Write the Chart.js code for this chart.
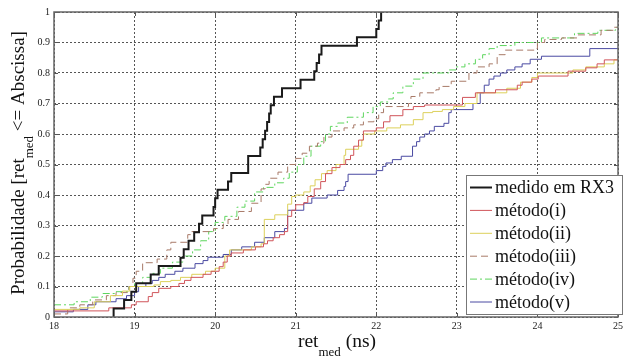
<!DOCTYPE html>
<html>
<head>
<meta charset="utf-8">
<script src="https://cdn.jsdelivr.net/npm/chart.js@4.4.1/dist/chart.umd.min.js"></script>
<style>
  html, body { margin: 0; padding: 0; background: #fff; }
  #wrap { width: 626px; height: 356px; }
</style>
</head>
<body>
<div id="wrap"><canvas id="cdf" width="626" height="356"></canvas></div>
<script>
// eixos
const xTickLabels = ["18", "19", "20", "21", "22", "23", "24", "25"];
const yTickLabels = ["0", "0.1", "0.2", "0.3", "0.4", "0.5", "0.6", "0.7", "0.8", "0.9", "1"];
const seriesNames = ["medido em RX3", "método(i)", "método(ii)", "método(iii)", "método(iv)", "método(v)"];

// medido em RX3
const medidoX = [18.74, 18.74, 18.87, 18.96, 19.02, 19.2, 19.3, 19.57, 19.61, 19.67, 19.74, 19.8, 19.84, 19.98, 20.0, 20.03, 20.16, 20.2, 20.41, 20.56, 20.59, 20.62, 20.645, 20.67, 20.69, 20.73, 20.83, 21.06, 21.23, 21.26, 21.29, 21.32, 21.76, 22.0, 22.03, 22.06];
const medidoY = [0, 0.028, 0.056, 0.083, 0.111, 0.139, 0.167, 0.194, 0.222, 0.25, 0.278, 0.306, 0.333, 0.361, 0.389, 0.417, 0.444, 0.472, 0.528, 0.556, 0.583, 0.611, 0.639, 0.667, 0.694, 0.722, 0.75, 0.778, 0.806, 0.833, 0.861, 0.889, 0.917, 0.944, 0.972, 1.0];

// método(i)
const metodo1X = [18, 18.68, 18.96, 19.02, 19.17, 19.22, 19.3, 19.45, 19.55, 19.62, 19.7, 19.85, 19.95, 20.05, 20.1, 20.15, 20.2, 20.35, 20.5, 20.6, 20.65, 20.72, 20.8, 20.86, 20.9, 20.95, 21.0, 21.1, 21.15, 21.23, 21.31, 21.37, 21.45, 21.55, 21.62, 21.68, 21.72, 21.78, 21.84, 22.0, 22.09, 22.17, 22.33, 22.46, 22.6, 23.07, 23.23, 23.48, 23.75, 23.81, 23.93, 24.01, 24.38, 24.6, 24.74, 24.83, 25];
const metodo1Y = [0.02, 0.03, 0.04, 0.05, 0.067, 0.08, 0.094, 0.1, 0.11, 0.12, 0.13, 0.14, 0.15, 0.165, 0.18, 0.2, 0.21, 0.22, 0.23, 0.24, 0.25, 0.26, 0.27, 0.28, 0.33, 0.35, 0.368, 0.375, 0.395, 0.42, 0.444, 0.47, 0.49, 0.5, 0.516, 0.53, 0.56, 0.58, 0.61, 0.62, 0.64, 0.66, 0.68, 0.69, 0.695, 0.72, 0.735, 0.745, 0.76, 0.77, 0.78, 0.79, 0.806, 0.817, 0.83, 0.843, 0.843];

// método(ii)
const metodo2X = [18, 18.32, 18.5, 18.7, 18.85, 18.94, 19.24, 19.32, 19.45, 19.57, 19.71, 19.88, 20.0, 20.12, 20.18, 20.45, 20.57, 20.61, 20.74, 20.9, 20.95, 21.0, 21.1, 21.18, 21.24, 21.32, 21.39, 21.5, 21.6, 21.62, 21.78, 21.82, 21.84, 21.98, 22.13, 22.3, 22.46, 22.58, 22.7, 22.82, 22.96, 23.1, 23.25, 23.62, 23.79, 23.93, 24.0, 24.44, 24.6, 24.83, 24.95, 25];
const metodo2Y = [0.025, 0.03, 0.05, 0.07, 0.085, 0.1, 0.105, 0.116, 0.12, 0.13, 0.14, 0.15, 0.16, 0.2, 0.22, 0.23, 0.24, 0.32, 0.335, 0.37, 0.395, 0.4, 0.41, 0.43, 0.45, 0.47, 0.48, 0.5, 0.53, 0.55, 0.56, 0.58, 0.6, 0.61, 0.62, 0.63, 0.647, 0.67, 0.674, 0.68, 0.69, 0.7, 0.735, 0.75, 0.77, 0.785, 0.8, 0.81, 0.82, 0.83, 0.843, 0.843];

// método(iii)
const metodo3X = [18, 18.17, 18.32, 18.48, 18.65, 18.77, 18.93, 18.98, 19.02, 19.1, 19.28, 19.4, 19.45, 19.66, 19.7, 19.98, 20.1, 20.16, 20.29, 20.45, 20.57, 20.62, 20.67, 20.78, 20.9, 21.0, 21.08, 21.17, 21.27, 21.35, 21.45, 21.6, 21.72, 21.84, 21.97, 22.03, 22.09, 22.4, 22.43, 22.54, 22.74, 22.78, 22.93, 23.15, 23.25, 23.4, 23.5, 23.6, 23.97, 24.0, 24.09, 24.3, 24.5, 24.79, 24.95, 25];
const metodo3Y = [0.01, 0.03, 0.04, 0.056, 0.07, 0.08, 0.1, 0.127, 0.15, 0.178, 0.19, 0.22, 0.245, 0.27, 0.28, 0.29, 0.305, 0.32, 0.346, 0.373, 0.42, 0.435, 0.455, 0.475, 0.5, 0.52, 0.537, 0.56, 0.57, 0.59, 0.61, 0.62, 0.63, 0.64, 0.65, 0.67, 0.69, 0.7, 0.723, 0.735, 0.745, 0.756, 0.773, 0.8, 0.82, 0.83, 0.86, 0.875, 0.88, 0.9, 0.91, 0.915, 0.925, 0.94, 0.95, 0.95];

// método(iv)
const metodo4X = [18, 18.25, 18.45, 18.6, 18.77, 18.93, 19.0, 19.1, 19.2, 19.32, 19.47, 19.6, 19.72, 19.82, 19.92, 20.0, 20.12, 20.27, 20.37, 20.49, 20.6, 20.74, 20.85, 20.92, 21.02, 21.1, 21.19, 21.31, 21.37, 21.43, 21.52, 21.64, 21.84, 21.96, 22.05, 22.15, 22.21, 22.33, 22.46, 22.58, 22.9, 22.99, 23.1, 23.23, 23.32, 23.4, 23.5, 23.72, 24.05, 24.46, 24.75, 24.97, 25];
const metodo4Y = [0.04, 0.05, 0.065, 0.077, 0.083, 0.1, 0.11, 0.13, 0.143, 0.16, 0.18, 0.2, 0.22, 0.25, 0.28, 0.31, 0.33, 0.36, 0.38, 0.41, 0.425, 0.44, 0.455, 0.475, 0.5, 0.527, 0.56, 0.575, 0.6, 0.625, 0.636, 0.655, 0.67, 0.69, 0.705, 0.715, 0.735, 0.757, 0.78, 0.8, 0.81, 0.82, 0.83, 0.845, 0.86, 0.88, 0.89, 0.9, 0.915, 0.93, 0.94, 0.95, 0.95];

// método(v)
const metodo5X = [18, 18.24, 18.42, 18.52, 18.77, 18.9, 19.0, 19.05, 19.14, 19.22, 19.3, 19.38, 19.5, 19.6, 19.75, 19.85, 19.91, 20.1, 20.2, 20.33, 20.49, 20.61, 20.74, 20.86, 20.9, 21.1, 21.2, 21.39, 21.52, 21.6, 21.62, 21.65, 22.0, 22.08, 22.12, 22.2, 22.31, 22.45, 22.5, 22.54, 22.6, 22.66, 22.72, 22.84, 22.9, 22.93, 23.2, 23.29, 23.34, 23.4, 23.46, 23.54, 23.62, 23.72, 23.81, 23.91, 24.05, 24.65, 25];
const metodo5Y = [0.017, 0.025, 0.04, 0.05, 0.06, 0.07, 0.083, 0.1, 0.11, 0.12, 0.13, 0.14, 0.15, 0.16, 0.175, 0.185, 0.196, 0.205, 0.22, 0.23, 0.245, 0.26, 0.28, 0.29, 0.35, 0.373, 0.39, 0.4, 0.415, 0.428, 0.444, 0.468, 0.48, 0.494, 0.505, 0.516, 0.527, 0.56, 0.575, 0.59, 0.6, 0.61, 0.625, 0.635, 0.67, 0.68, 0.7, 0.735, 0.76, 0.78, 0.79, 0.8, 0.81, 0.82, 0.83, 0.845, 0.855, 0.88, 0.88];

const pontos = (xs, ys) => xs.map((x, i) => ({ x, y: ys[i] }));

const serif = "'Liberation Serif', 'DejaVu Serif', serif";

// linha com subscrito (ret_med)
function textoSub(ctx, partes, x, y, big, small) {
  let cx = x;
  partes.forEach(p => {
    ctx.font = (p.sub ? small : big) + "px " + serif;
    ctx.fillText(p.t, cx, y + (p.sub ? 8.5 : 0));
    cx += ctx.measureText(p.t).width;
  });
  return cx - x;
}
function larguraSub(ctx, partes, big, small) {
  let w = 0;
  partes.forEach(p => {
    ctx.font = (p.sub ? small : big) + "px " + serif;
    w += ctx.measureText(p.t).width;
  });
  return w;
}

const moldura = {
  id: "moldura",
  afterDraw(chart) {
    const { ctx, chartArea: a, scales } = chart;
    ctx.save();
    // ticks internos
    ctx.strokeStyle = "#555";
    ctx.lineWidth = 1;
    ctx.beginPath();
    scales.x.ticks.forEach(t => {
      const px = Math.round(scales.x.getPixelForValue(t.value)) + 0.5;
      ctx.moveTo(px, a.bottom); ctx.lineTo(px, a.bottom - 4);
      ctx.moveTo(px, a.top); ctx.lineTo(px, a.top + 4);
    });
    scales.y.ticks.forEach(t => {
      const py = Math.round(scales.y.getPixelForValue(t.value)) + 0.5;
      ctx.moveTo(a.left, py); ctx.lineTo(a.left + 4, py);
      ctx.moveTo(a.right, py); ctx.lineTo(a.right - 4, py);
    });
    ctx.stroke();
    // caixa
    ctx.strokeStyle = "#666";
    ctx.lineWidth = 1.5;
    ctx.strokeRect(a.left, a.top, a.right - a.left, a.bottom - a.top);

    // legenda
    const lx = 466, ly = 175, lw = 156, lh = 139;
    ctx.fillStyle = "#fff";
    ctx.fillRect(lx, ly, lw, lh);
    ctx.strokeStyle = "#777";
    ctx.lineWidth = 1;
    ctx.strokeRect(lx + 0.5, ly + 0.5, lw, lh);
    chart.data.datasets.forEach((ds, i) => {
      const yy = 187.5 + i * 22.9;
      ctx.strokeStyle = ds.borderColor;
      ctx.lineWidth = ds.borderWidth;
      ctx.setLineDash(ds.borderDash || []);
      ctx.beginPath();
      ctx.moveTo(470, yy); ctx.lineTo(492, yy);
      ctx.stroke();
      ctx.setLineDash([]);
      ctx.fillStyle = "#111";
      ctx.font = "18px " + serif;
      ctx.textBaseline = "middle";
      ctx.fillText(ds.label, 495, yy + 1);
    });

    // titulo eixo x
    ctx.fillStyle = "#111";
    ctx.textBaseline = "alphabetic";
    const tx = [{ t: "ret" }, { t: "med", sub: true }, { t: " (ns)" }];
    const wx = larguraSub(ctx, tx, 19.5, 13);
    textoSub(ctx, tx, 337 - wx / 2, 347, 19.5, 13);

    // titulo eixo y
    const ty = [{ t: "Probabilidade [ret" }, { t: "med", sub: true }, { t: " <= Abscissa]" }];
    const wy = larguraSub(ctx, ty, 19, 13);
    ctx.translate(24, 163 + wy / 2);
    ctx.rotate(-Math.PI / 2);
    textoSub(ctx, ty, 0, 0, 19, 13);
    ctx.restore();
  }
};

const estilos = [
  { cor: "#1a1a1a", w: 2, dash: [] },
  { cor: "#d0545a", w: 1, dash: [] },
  { cor: "#dcd05a", w: 1, dash: [] },
  { cor: "#a87a68", w: 1, dash: [7, 4] },
  { cor: "#5ed65e", w: 1, dash: [7, 3, 2, 3] },
  { cor: "#4a4aa2", w: 1, dash: [] }
];
const series = [
  pontos(medidoX, medidoY),
  pontos(metodo1X, metodo1Y),
  pontos(metodo2X, metodo2Y),
  pontos(metodo3X, metodo3Y),
  pontos(metodo4X, metodo4Y),
  pontos(metodo5X, metodo5Y)
];

// desenhar o preto por cima
const datasets = series.map((data, i) => ({
  label: seriesNames[i],
  data,
  borderColor: estilos[i].cor,
  borderWidth: estilos[i].w,
  borderDash: estilos[i].dash,
  stepped: true,
  pointRadius: 0,
  fill: false,
  order: i === 0 ? 0 : 1
}));

new Chart(document.getElementById("cdf"), {
  type: "line",
  data: { datasets },
  options: {
    responsive: false,
    animation: false,
    layout: { padding: { top: 12, right: 2, left: 0, bottom: 0 } },
    plugins: { legend: { display: false }, tooltip: { enabled: false } },
    scales: {
      x: {
        type: "linear",
        min: 18, max: 25,
        afterFit: s => { s.height = 39; },
        grid: { color: "#555", lineWidth: 1, drawTicks: false },
        border: { display: false, dash: [2, 2] },
        ticks: {
          stepSize: 1, padding: 3, autoSkip: false, maxRotation: 0,
          color: "#222", font: { family: serif, size: 10 },
          callback: (v, i) => xTickLabels[i]
        }
      },
      y: {
        min: 0, max: 1,
        afterFit: s => { s.width = 54; },
        grid: { color: "#555", lineWidth: 1, drawTicks: false },
        border: { display: false, dash: [2, 2] },
        ticks: {
          stepSize: 0.1, padding: 4, autoSkip: false,
          color: "#222", font: { family: serif, size: 10 },
          callback: (v, i) => yTickLabels[i]
        }
      }
    }
  },
  plugins: [moldura]
});
</script>
</body>
</html>
